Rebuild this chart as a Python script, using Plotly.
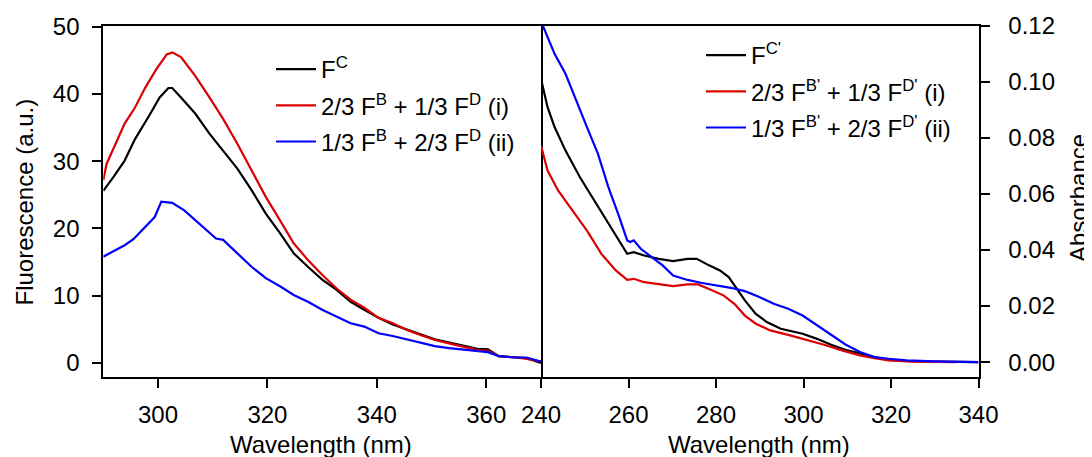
import plotly.graph_objects as go

# ---------------- Left panel: fluorescence ----------------
fl_x_c = [290, 291.9, 293.9, 295.8, 298.4, 300.3, 301.9, 302.6, 304.2, 306.8, 309.4, 311.9, 314.5,
          317.1, 319.7, 322.3, 324.8, 327.4, 330, 332.6, 335.2, 337.7, 340.3, 342.9, 345.5, 348.1,
          350.6, 353.2, 355.8, 358.4, 360.3, 362.3, 365.5, 367.4, 370]
fl_y_c = [25.6, 27.7, 30.1, 33.3, 36.8, 39.5, 40.9, 40.9, 39.5, 37.1, 34.1, 31.6, 28.9,
          25.7, 22.2, 19.3, 16.3, 14.3, 12.4, 10.9, 9.1, 7.9, 6.7, 5.7, 4.9, 4.2,
          3.5, 3.0, 2.5, 2.1, 2.0, 1.0, 0.8, 0.7, 0.0]

fl_x_i = [290, 290.6, 293.9, 295.8, 297.7, 299.7, 301.6, 302.6, 304.2, 306.8, 309.4, 311.9, 314.5,
          317.1, 319.7, 322.3, 324.8, 327.4, 330, 332.6, 335.2, 337.7, 340.3, 342.9, 345.5, 348.1,
          350.6, 353.2, 355.8, 358.4, 360.3, 362.3, 365.5, 367.4, 370]
fl_y_i = [27.2, 29.6, 35.6, 38.0, 41.0, 43.7, 45.9, 46.2, 45.5, 42.7, 39.5, 36.3, 32.6,
          28.7, 24.7, 21.2, 17.8, 15.3, 13.1, 11.1, 9.4, 8.2, 6.7, 5.9, 4.9, 4.1,
          3.4, 2.9, 2.4, 1.9, 1.8, 1.0, 0.8, 0.6, 0.2]

fl_x_ii = [290, 291.9, 293.9, 295.5, 297.7, 299.4, 300.6, 302.6, 304.8, 306.8, 308.7, 310.6, 311.9,
           314.5, 317.1, 319.7, 322.3, 324.8, 327.4, 330, 332.6, 335.2, 337.7, 340.3, 342.9, 345.5,
           348.1, 350.6, 353.2, 355.8, 358.4, 360.3, 362.3, 365.5, 367.4, 370]
fl_y_ii = [15.8, 16.6, 17.5, 18.4, 20.3, 21.7, 24.0, 23.8, 22.7, 21.2, 19.8, 18.5, 18.3,
           16.3, 14.3, 12.6, 11.4, 10.1, 9.1, 7.9, 6.9, 5.9, 5.4, 4.4, 4.0, 3.5,
           3.0, 2.5, 2.2, 2.0, 1.7, 1.6, 1.0, 0.8, 0.8, 0.2]

# ---------------- Right panel: absorbance ----------------
ab_x_c = [240, 241.5, 243.1, 245.6, 248.9, 252.2, 255.4, 257.9, 259.7, 261.2, 263.6, 266.9, 270.2,
          273.5, 275.6, 278.4, 280.9, 282.9, 285.0, 286.6, 289.1, 291.6, 294.8, 299.8, 303.1, 306.3,
          309.6, 312.9, 316.2, 319.5, 322.8, 330, 335, 340]
ab_y_c = [0.101, 0.0909, 0.0838, 0.0754, 0.0659, 0.0576, 0.0493, 0.0434, 0.0386, 0.0392, 0.0380,
          0.0368, 0.0360, 0.0368, 0.0368, 0.0345, 0.0327, 0.0303, 0.0255, 0.0220, 0.0172, 0.0143,
          0.0119, 0.0101, 0.0083, 0.0062, 0.0044, 0.0030, 0.0018, 0.0008, 0.0004, 0.0002, 0.0001, 0.0]

ab_x_i = [240, 241.5, 243.9, 247.2, 250.5, 253.8, 257.1, 259.7, 261.2, 263.6, 266.9, 270.2, 273.5,
          275.9, 278.4, 281.7, 284.2, 286.6, 289.1, 292.4, 296.5, 300.6, 304.7, 308.8, 312.9, 316.2,
          319.5, 325, 335]
ab_y_i = [0.0772, 0.0683, 0.0612, 0.0540, 0.0469, 0.0386, 0.0327, 0.0293, 0.0297, 0.0285, 0.0277,
          0.0271, 0.0277, 0.0277, 0.0261, 0.0238, 0.0208, 0.0166, 0.0137, 0.0113, 0.0097, 0.0080,
          0.0062, 0.0042, 0.0024, 0.0014, 0.0006, 0.0002, 0.0]

ab_x_ii = [240.4, 243.1, 245.6, 248.0, 250.5, 253.0, 255.4, 257.9, 259.7, 260.4, 261.2, 262.8, 265.3,
           267.8, 270.2, 273.5, 276.8, 280.1, 283.4, 286.6, 289.9, 293.2, 296.5, 299.8, 303.1, 306.3,
           309.6, 312.9, 316.2, 319.5, 323.6, 330, 335, 340]
ab_y_ii = [0.1200, 0.1099, 0.1028, 0.0933, 0.0838, 0.0743, 0.0624, 0.0517, 0.0434, 0.0428, 0.0434,
           0.0404, 0.0374, 0.0345, 0.0309, 0.0293, 0.0282, 0.0273, 0.0265, 0.0253, 0.0232, 0.0208,
           0.0190, 0.0166, 0.0131, 0.0095, 0.0063, 0.0036, 0.0018, 0.0012, 0.0006, 0.0003, 0.0002, 0.0]

fl_names = ["F<sup>C</sup>",
            "2/3 F<sup>B</sup> + 1/3 F<sup>D</sup> (i)",
            "1/3 F<sup>B</sup> + 2/3 F<sup>D</sup> (ii)"]
ab_names = ["F<sup>C'</sup>",
            "2/3 F<sup>B'</sup> + 1/3 F<sup>D'</sup> (i)",
            "1/3 F<sup>B'</sup> + 2/3 F<sup>D'</sup> (ii)"]
colors = ["#000000", "#dd0000", "#0000ff"]

x_ticks_left = [300, 320, 340, 360]
y_ticks_left = [0, 10, 20, 30, 40, 50]
x_ticks_right = [240, 260, 280, 300, 320, 340]
y_ticks_right = [0.00, 0.02, 0.04, 0.06, 0.08, 0.10, 0.12]

FONT = "Liberation Sans, Arial, sans-serif"
W, H = 1092, 457
OFF = 8  # page body margin offset in the browser


def px(sx):
    return (sx - OFF) / W


def py(sy):
    return 1 - (sy - OFF) / H


fig = go.Figure()
for i, (xs, ys) in enumerate([(fl_x_c, fl_y_c), (fl_x_i, fl_y_i), (fl_x_ii, fl_y_ii)]):
    fig.add_trace(go.Scatter(x=xs, y=ys, mode="lines", name=fl_names[i],
                             line=dict(color=colors[i], width=2.2),
                             xaxis="x", yaxis="y", legend="legend",
                             legendgroup="l%d" % i))
for i, (xs, ys) in enumerate([(ab_x_c, ab_y_c), (ab_x_i, ab_y_i), (ab_x_ii, ab_y_ii)]):
    fig.add_trace(go.Scatter(x=xs, y=ys, mode="lines", name=ab_names[i],
                             line=dict(color=colors[i], width=2.2),
                             xaxis="x2", yaxis="y2", legend="legend2",
                             legendgroup="r%d" % i))

x0, xm, x1 = px(103.3), px(541), px(978.5)
yb, yt = py(377), py(25.5)

axis_common = dict(showline=True, linecolor="black", linewidth=2,
                   ticks="outside", tickcolor="black", tickwidth=2, ticklen=9,
                   showgrid=False, zeroline=False, automargin=False,
                   tickfont=dict(family=FONT, size=24, color="black"))

legend_common = dict(font=dict(family=FONT, size=24, color="black"),
                     bgcolor="rgba(0,0,0,0)", borderwidth=0,
                     tracegroupgap=2, itemwidth=40, xanchor="left", yanchor="top")

fig.update_layout(
    template="none",
    width=W, height=H, autosize=False,
    margin=dict(l=0, r=0, t=0, b=0, pad=0),
    paper_bgcolor="white", plot_bgcolor="white",
    font=dict(family=FONT, color="black"),
    xaxis=dict(domain=[x0, xm], range=[290, 370], tickvals=x_ticks_left, mirror=True,
               anchor="y", ticklabelstandoff=6, **axis_common),
    yaxis=dict(domain=[yb, yt], range=[-2.1, 50.2], tickvals=y_ticks_left, mirror=True,
               anchor="x", ticklabelstandoff=8, **axis_common),
    xaxis2=dict(domain=[xm, x1], range=[240, 340], tickvals=x_ticks_right, mirror=True,
                anchor="y2", ticklabelstandoff=6, **axis_common),
    yaxis2=dict(domain=[yb, yt], range=[-0.0053, 0.12], tickvals=y_ticks_right, mirror=False,
                tickformat=".2f", anchor="x2", side="right", ticklabelstandoff=14,
                **axis_common),
    legend=dict(x=px(271), y=py(47), **legend_common),
    legend2=dict(x=px(701), y=py(33), **legend_common),
    showlegend=True,
)

title_font = dict(family=FONT, size=24, color="black")
fig.add_annotation(text="Fluorescence (a.u.)", x=px(23.5), y=py(202), xref="paper", yref="paper",
                   textangle=-90, showarrow=False, font=title_font, xanchor="center", yanchor="middle")
fig.add_annotation(text="Absorbance", x=px(1079), y=py(198), xref="paper", yref="paper",
                   textangle=-90, showarrow=False, font=title_font, xanchor="center", yanchor="middle")
fig.add_annotation(text="Wavelength (nm)", x=px(321), y=py(444), xref="paper", yref="paper",
                   showarrow=False, font=title_font, xanchor="center", yanchor="middle")
fig.add_annotation(text="Wavelength (nm)", x=px(758.6), y=py(444), xref="paper", yref="paper",
                   showarrow=False, font=title_font, xanchor="center", yanchor="middle")

fig.write_html("out.html")
